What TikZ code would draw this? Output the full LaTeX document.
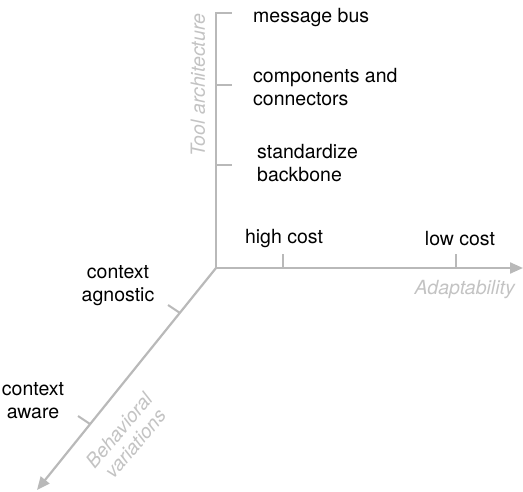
\documentclass[tikz,border=0pt]{standalone}
\usepackage{fontspec}
\setmainfont{TeX Gyre Heros}
\usetikzlibrary{arrows.meta}
\definecolor{axisgray}{RGB}{185,185,185}
\definecolor{labelgray}{RGB}{195,195,195}
\tikzset{
  axis/.style={draw=axisgray, line width=2.2pt},
  tick/.style={draw=axisgray, line width=2pt},
  lbl/.style={font=\fontsize{19.5}{23}\selectfont, text=black, inner sep=0pt, align=left},
  clbl/.style={font=\fontsize{19.5}{23}\selectfont, text=black, inner sep=0pt, align=center},
  axlbl/.style={font=\fontsize{19.5}{21}\selectfont\itshape, text=labelgray, inner sep=0pt, align=center},
}
\begin{document}
\begin{tikzpicture}[x=1pt,y=-1pt]
\useasboundingbox (0,0) rectangle (523,491);
\coordinate (O) at (216,268);
\coordinate (T) at (216,12);
\coordinate (X) at (523,268);
\coordinate (D) at (37,490);
% axes
\draw[axis] (T) -- (O);
\draw[axis,-{Triangle[length=13pt,width=11pt]}] (O) -- (X);
\draw[axis,-{Triangle[length=13pt,width=11pt]}] (O) -- (D);
% vertical ticks
\coordinate (t1) at (216,13);
\coordinate (t2) at (216,85);
\coordinate (t3) at (216,165);
\coordinate (t1e) at (232,13);
\coordinate (t2e) at (232,85);
\coordinate (t3e) at (232,165);
\draw[tick] (t1) -- (t1e);
\draw[tick] (t2) -- (t2e);
\draw[tick] (t3) -- (t3e);
% horizontal ticks
\coordinate (h1) at (283,268);
\coordinate (h2) at (456,268);
\coordinate (h1e) at (283,254);
\coordinate (h2e) at (456,254);
\draw[tick] (h1) -- (h1e);
\draw[tick] (h2) -- (h2e);
% diagonal ticks
\coordinate (d1) at (180,313);
\coordinate (d2) at (90,424);
\coordinate (d1e) at (168,305);
\coordinate (d2e) at (78,416);
\draw[tick] (d1) -- (d1e);
\draw[tick] (d2) -- (d2e);
% labels
\node[lbl, anchor=west] (mb) at (253,18) {message bus};
\node[lbl, anchor=west] (cc) at (253,87) {components and\\connectors};
\node[lbl, anchor=west] (sb) at (257,163) {standardize\\backbone};
\node[clbl] (hc) at (284,239) {high cost};
\node[clbl] (lc) at (460,239) {low cost};
\node[clbl] (ca) at (118,286) {context\\agnostic};
\node[clbl] (caw) at (33,401) {context\\aware};
\node[axlbl, anchor=east] (ad) at (515,290) {Adaptability};
\node[axlbl, rotate=90] (ta) at (198,85) {Tool architecture};
\node[axlbl, rotate=50] (bv) at (127,437) {Behavioral\\variations};
\end{tikzpicture}
\end{document}
